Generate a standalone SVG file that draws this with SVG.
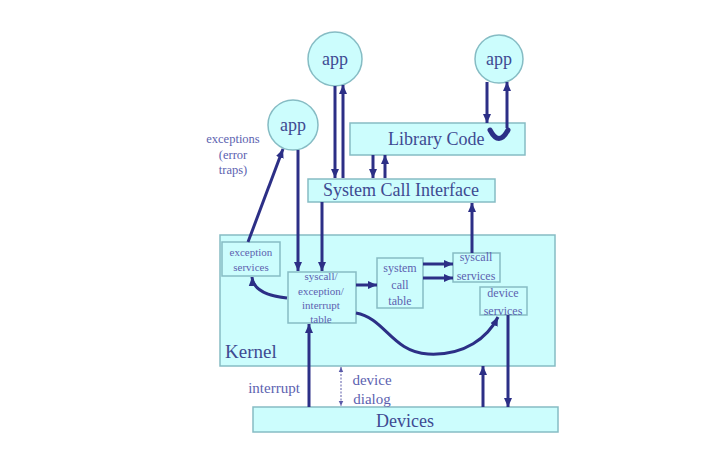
<svg xmlns="http://www.w3.org/2000/svg" width="709" height="475" viewBox="0 0 709 475">
<defs>
<style>
.box{fill:#ccfdfd;stroke:#86bcc4;stroke-width:1.5}
.big{font-family:"Liberation Serif",serif;fill:#3e4a92}
.sm{font-family:"Liberation Serif",serif;fill:#5c62b0;text-anchor:middle}
.c{fill:none;stroke:#2c2f86;stroke-width:3}
.thin{fill:none;stroke:#5a5aa8;stroke-width:1;stroke-dasharray:2,1.5}
</style>
<marker id="ah" markerUnits="userSpaceOnUse" markerWidth="10" markerHeight="10" viewBox="0 0 10 10" refX="9" refY="5" orient="auto">
<path d="M0,1 L9,5 L0,9 Z" fill="#2c2f86"/>
</marker>
<marker id="ahs" markerUnits="userSpaceOnUse" markerWidth="6" markerHeight="6" viewBox="0 0 10 10" refX="9" refY="5" orient="auto-start-reverse">
<path d="M0,1 L9,5 L0,9 Z" fill="#5a5aa8"/>
</marker>
</defs>
<rect width="709" height="475" fill="#ffffff"/>

<g id="kernel">
<rect class="box" x="220" y="235" width="335" height="131"/>
<text class="big" x="225" y="358" font-size="19">Kernel</text>
</g>
<g id="app-left">
<circle class="box" cx="293" cy="125" r="25"/>
<text class="big" x="293" y="131" font-size="18" text-anchor="middle">app</text>
</g>
<g id="app-top">
<circle class="box" cx="335" cy="59" r="27"/>
<text class="big" x="335" y="65" font-size="18" text-anchor="middle">app</text>
</g>
<g id="app-right">
<circle class="box" cx="499" cy="59" r="24"/>
<text class="big" x="499" y="65" font-size="18" text-anchor="middle">app</text>
</g>
<g id="library-code">
<rect class="box" x="350" y="123" width="175" height="32"/>
<text class="big" x="388" y="145" font-size="18">Library Code</text>
</g>
<g id="system-call-interface">
<rect class="box" x="308" y="179" width="187" height="23"/>
<text class="big" x="401" y="196" font-size="18" text-anchor="middle">System Call Interface</text>
</g>
<g id="exception-services">
<rect class="box" x="222" y="242" width="58" height="34"/>
<text class="sm" x="251" y="256" font-size="11">exception</text>
<text class="sm" x="251" y="271" font-size="11">services</text>
</g>
<g id="syscall-table">
<rect class="box" x="288" y="272" width="68" height="51"/>
<text class="sm" x="321" y="280" font-size="11">syscall/</text>
<text class="sm" x="321" y="295" font-size="11">exception/</text>
<text class="sm" x="321" y="309" font-size="11">interrupt</text>
<text class="sm" x="321" y="323" font-size="11">table</text>
</g>
<g id="system-call-table">
<rect class="box" x="377" y="258" width="46" height="50"/>
<text class="sm" x="400" y="272" font-size="12">system</text>
<text class="sm" x="400" y="289" font-size="12">call</text>
<text class="sm" x="400" y="305" font-size="12">table</text>
</g>
<g id="syscall-services">
<rect class="box" x="453" y="253" width="47" height="29"/>
<text class="sm" x="476" y="261" font-size="12">syscall</text>
<text class="sm" x="476" y="280" font-size="12">services</text>
</g>
<g id="device-services">
<rect class="box" x="480" y="287" width="47" height="28"/>
<text class="sm" x="503" y="297" font-size="12">device</text>
<text class="sm" x="503" y="315" font-size="12">services</text>
</g>
<g id="devices">
<rect class="box" x="253" y="407" width="305" height="25"/>
<text class="big" x="405" y="427" font-size="18" text-anchor="middle">Devices</text>
</g>

<g id="labels">
<text class="sm" x="233" y="143" font-size="12.5">exceptions</text>
<text class="sm" x="233" y="159" font-size="12.5">(error</text>
<text class="sm" x="233" y="174" font-size="12.5">traps)</text>
<text class="sm" x="274" y="393" font-size="15">interrupt</text>
<text class="sm" x="372" y="385" font-size="15">device</text>
<text class="sm" x="372" y="404" font-size="15">dialog</text>
</g>

<g id="connectors">
<line class="c" x1="298" y1="150" x2="298" y2="271" marker-end="url(#ah)"/>
<line class="c" x1="248" y1="242" x2="283" y2="149" marker-end="url(#ah)"/>
<line class="c" x1="335" y1="86" x2="335" y2="178" marker-end="url(#ah)"/>
<line class="c" x1="343" y1="178" x2="343" y2="85" marker-end="url(#ah)"/>
<line class="c" x1="487" y1="82" x2="487" y2="123" marker-end="url(#ah)"/>
<line class="c" x1="507" y1="128" x2="507" y2="82" marker-end="url(#ah)"/>
<path d="M490,130 Q499,147 508,130" fill="none" stroke="#2c2f86" stroke-width="5" stroke-linecap="round"/>
<line class="c" x1="373" y1="155" x2="373" y2="178" marker-end="url(#ah)"/>
<line class="c" x1="385" y1="178" x2="385" y2="155" marker-end="url(#ah)"/>
<line class="c" x1="322" y1="202" x2="322" y2="271" marker-end="url(#ah)"/>
<line class="c" x1="472" y1="253" x2="472" y2="203" marker-end="url(#ah)"/>
<line class="c" x1="356" y1="285" x2="377" y2="285" marker-end="url(#ah)"/>
<line class="c" x1="423" y1="264" x2="453" y2="264" marker-end="url(#ah)"/>
<line class="c" x1="423" y1="278" x2="453" y2="278" marker-end="url(#ah)"/>
<path class="c" d="M287,298 C268,296 253,290 252,277" marker-end="url(#ah)"/>
<path class="c" d="M356,313 C385,318 392,352 428,354 C465,356 488,337 498,317" marker-end="url(#ah)"/>
<line class="c" x1="309" y1="407" x2="309" y2="324" marker-end="url(#ah)"/>
<line class="thin" x1="341" y1="367" x2="341" y2="406" marker-start="url(#ahs)" marker-end="url(#ahs)"/>
<line class="c" x1="483" y1="407" x2="483" y2="366" marker-end="url(#ah)"/>
<line class="c" x1="508" y1="315" x2="508" y2="407" marker-end="url(#ah)"/>
</g>
</svg>
